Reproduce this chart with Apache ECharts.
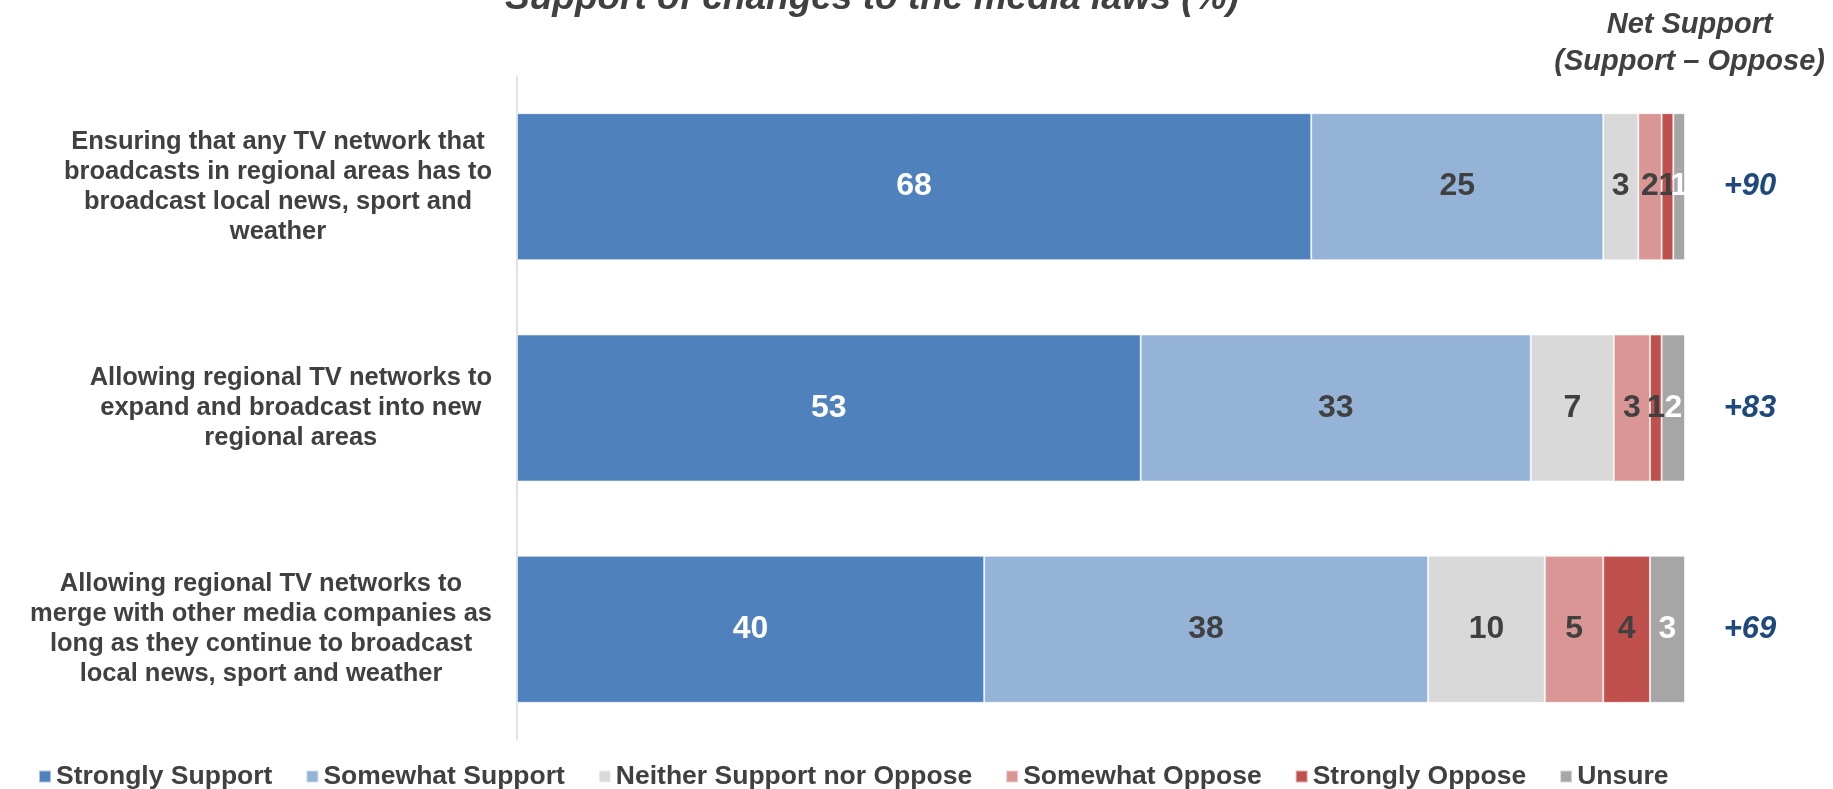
<!DOCTYPE html>
<html>
<head>
<meta charset="utf-8">
<script src="https://cdn.jsdelivr.net/npm/echarts@6/dist/echarts.min.js"></script>
<style>
  html, body { margin: 0; padding: 0; background: #fff; }
  #chart { width: 1833px; height: 789px; }
</style>
</head>
<body>
<div id="chart"></div>
<script>
// data (percent)
var statements = [
    'Ensuring that any TV network that\nbroadcasts in regional areas has to\nbroadcast local news, sport and\nweather',
    'Allowing regional TV networks to\nexpand and broadcast into new\nregional areas',
    'Allowing regional TV networks to\nmerge with other media companies as\nlong as they continue to broadcast\nlocal news, sport and weather'
];
var responses = ['Strongly Support', 'Somewhat Support', 'Neither Support nor Oppose', 'Somewhat Oppose', 'Strongly Oppose', 'Unsure'];
var stronglySupport = [68, 53.4, 40];
var somewhatSupport = [25, 33.4, 38];
var neither = [3, 7.1, 10];
var somewhatOppose = [2, 3.1, 5];
var stronglyOppose = [1, 1.0, 4];
var unsure = [1, 2.0, 3];
var netSupport = [90, 83, 69];

var colors = ['#4f81bd', '#95b3d7', '#d9d9d9', '#da9694', '#c0504d', '#a6a6a6'];
var labelColors = ['#ffffff', '#404040', '#404040', '#404040', '#404040', '#ffffff'];
var values = [stronglySupport, somewhatSupport, neither, somewhatOppose, stronglyOppose, unsure];
var font = "'Liberation Sans', Arial, sans-serif";

var chart = echarts.init(document.getElementById('chart'));

var series = [];
for (var i = 0; i < responses.length; i++) {
    series.push({
        name: responses[i],
        type: 'bar',
        stack: 'total',
        barWidth: 147,
        data: values[i],
        itemStyle: {
            color: colors[i],
            borderColor: 'rgba(255,255,255,0.55)',
            borderWidth: 1
        },
        label: {
            show: true,
            position: 'inside',
            color: labelColors[i],
            fontFamily: font,
            fontWeight: 'bold',
            fontSize: 32,
            formatter: function(p) {
                return Math.round(p.value);
            }
        }
    });
}

var option = {
    backgroundColor: '#ffffff',
    animation: false,
    color: colors,
    title: [{
        text: 'Support of changes to the media laws (%)',
        left: 500,
        top: -25,
        textStyle: {
            color: '#404040',
            fontFamily: font,
            fontWeight: 'bold',
            fontStyle: 'italic',
            fontSize: 37,
            lineHeight: 37
        }
    }, {
        text: '{a|Net Support}\n{a|(Support \u2013 Oppose)}',
        right: 3,
        top: 1,
        textStyle: {
            rich: {
                a: {
                    align: 'center',
                    color: '#404040',
                    fontFamily: font,
                    fontWeight: 'bold',
                    fontStyle: 'italic',
                    fontSize: 29,
                    lineHeight: 37
                }
            }
        }
    }],
    legend: {
        left: 33,
        top: 758,
        itemWidth: 12,
        itemHeight: 12,
        itemGap: 33,
        icon: 'rect',
        data: responses,
        textStyle: {
            color: '#404040',
            fontFamily: font,
            fontWeight: 'bold',
            fontSize: 26.5
        }
    },
    grid: {
        left: 517,
        right: 148,
        top: 76,
        bottom: 49,
        containLabel: false
    },
    xAxis: {
        type: 'value',
        min: 0,
        max: 100,
        show: false
    },
    yAxis: [{
        type: 'category',
        inverse: true,
        data: statements,
        axisLine: { show: true, lineStyle: { color: '#d9d9d9', width: 1.5 } },
        axisTick: { show: false },
        axisLabel: {
            margin: 25,
            formatter: function(v) {
                return v.split('\n').map(function(s) { return '{c|' + s + '}'; }).join('\n');
            },
            rich: {
                c: {
                    align: 'center',
                    color: '#404040',
                    fontFamily: font,
                    fontWeight: 'bold',
                    fontSize: 25.5,
                    lineHeight: 30
                }
            }
        }
    }, {
        type: 'category',
        inverse: true,
        position: 'right',
        data: netSupport.map(function(v) { return '+' + v; }),
        axisLine: { show: false },
        axisTick: { show: false },
        axisLabel: {
            margin: 65,
            align: 'center',
            color: '#1f497d',
            fontFamily: font,
            fontWeight: 'bold',
            fontStyle: 'italic',
            fontSize: 31
        }
    }],
    series: series
};

chart.setOption(option);
</script>
</body>
</html>
